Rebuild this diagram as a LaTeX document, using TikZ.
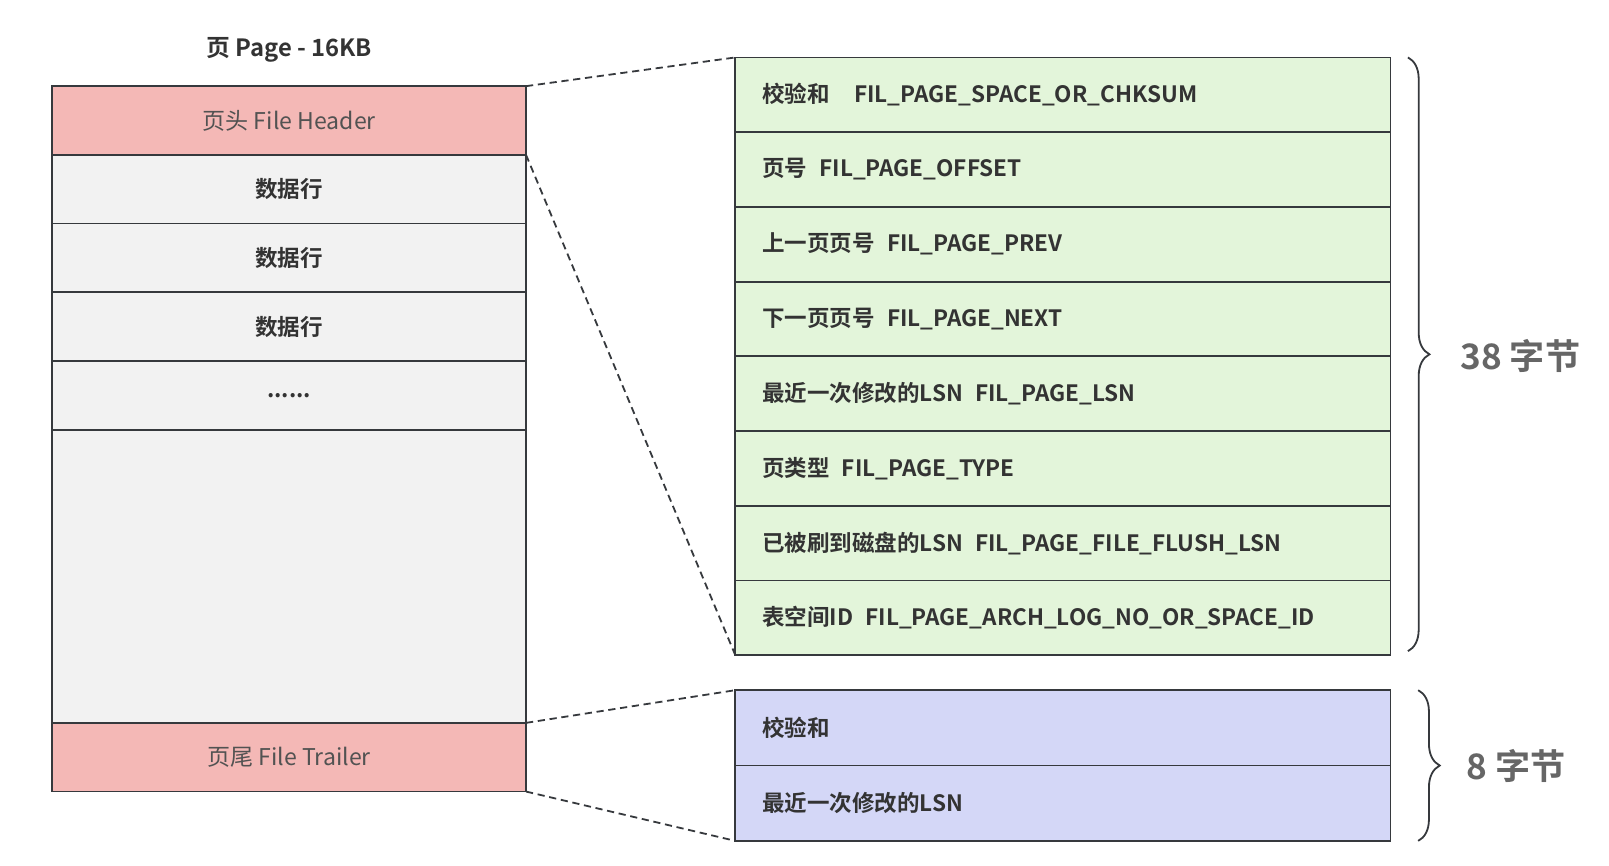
\documentclass[tikz,border=0pt]{standalone}
\usepackage{fontspec}
\setmainfont{Noto Sans CJK SC}[BoldFont={Noto Sans CJK SC Bold}]
\usetikzlibrary{positioning,decorations.pathreplacing}
\definecolor{edgecol}{HTML}{36393D}
\definecolor{hdrpink}{HTML}{F4B8B6}
\definecolor{rowgray}{HTML}{F2F2F2}
\definecolor{fldgreen}{HTML}{E3F5DA}
\definecolor{fldblue}{HTML}{D4D7F7}
\definecolor{txtcol}{HTML}{333333}
\definecolor{sizecol}{HTML}{666666}
\newcommand{\gap}{\hspace{0.55em}}

\begin{document}
\begin{tikzpicture}[x=0.02cm,y=-0.02cm,
		every node/.style={font=\fontsize{12.5}{15}\selectfont,text=txtcol},
		pagecell/.style={draw=edgecol,line width=1pt,outer sep=0pt,minimum width=9.24cm,minimum height=1.34cm},
		fieldcell/.style={draw=edgecol,line width=1pt,outer sep=0pt,minimum height=1.4575cm,
			text width=11.74cm,inner xsep=0.52cm,align=left,font=\fontsize{12.5}{15}\selectfont\bfseries},
		zoomline/.style={edgecol,line width=1pt,dash pattern=on 4pt off 2.6pt},
		bytebrace/.style={edgecol,line width=1pt,decorate,decoration={brace,amplitude=0.42cm}},
		sizelabel/.style={anchor=west,text=sizecol,font=\fontsize{19.5}{24}\selectfont\bfseries}]
		\useasboundingbox (0,0) rectangle (1569,844.4);
		% the page
		\node[font=\fontsize{13.2}{16}\selectfont\bfseries] (title) at (282,49) {页 Page - 16KB};
		\node[pagecell,fill=hdrpink,text=txtcol!85,font=\fontsize{12.8}{15}\selectfont] (hdr) at (282,117.5) {页头 File Header};
		\node[pagecell,fill=rowgray,below=0pt of hdr,font=\fontsize{12.5}{15}\selectfont\bfseries] (row1) {数据行};
		\node[pagecell,fill=rowgray,below=0pt of row1,font=\fontsize{12.5}{15}\selectfont\bfseries] (row2) {数据行};
		\node[pagecell,fill=rowgray,below=0pt of row2,font=\fontsize{12.5}{15}\selectfont\bfseries] (row3) {数据行};
		\node[pagecell,fill=rowgray,below=0pt of row3,font=\fontsize{12.5}{15}\selectfont\bfseries] (dots) {......};
		\node[pagecell,fill=rowgray,below=0pt of dots,minimum height=5.72cm] (free) {};
		\node[pagecell,fill=hdrpink,below=0pt of free,text=txtcol!85,font=\fontsize{12.8}{15}\selectfont] (trl) {页尾 File Trailer};
		% file header fields
		\foreach \i/\txt in {1/校验和\hspace{1.1em}FIL\_PAGE\_SPACE\_OR\_CHKSUM,
				2/页号\gap FIL\_PAGE\_OFFSET,
				3/上一页页号\gap FIL\_PAGE\_PREV,
				4/下一页页号\gap FIL\_PAGE\_NEXT,
				5/最近一次修改的LSN\gap FIL\_PAGE\_LSN,
				6/页类型\gap FIL\_PAGE\_TYPE,
				7/已被刷到磁盘的LSN\gap FIL\_PAGE\_FILE\_FLUSH\_LSN,
				8/表空间ID\gap FIL\_PAGE\_ARCH\_LOG\_NO\_OR\_SPACE\_ID}
			\node[fieldcell,fill=fldgreen] (fh\i) at (1036.5,{56+(\i-0.5)*72.875}) {\txt};
		% file trailer fields
		\node[fieldcell,fill=fldblue,minimum height=1.47cm] (ft1) at (1036.5,709.75) {校验和};
		\node[fieldcell,fill=fldblue,minimum height=1.47cm,below=0pt of ft1] (ft2) {最近一次修改的LSN};
		% zoom lines
		\draw[zoomline] (hdr.north east) -- (fh1.north west);
		\draw[zoomline] (hdr.south east) -- (fh8.south west);
		\draw[zoomline] (trl.north east) -- (ft1.north west);
		\draw[zoomline] (trl.south east) -- (ft2.south west);
		% braces
		\coordinate (hb1) at ([xshift=0.34cm]fh1.north east);
		\coordinate (hb2) at ([xshift=0.34cm,yshift=0.08cm]fh8.south east);
		\coordinate (tb1) at ([xshift=0.54cm]ft1.north east);
		\coordinate (tb2) at ([xshift=0.54cm]ft2.south east);
		\draw[bytebrace] (hb1) -- (hb2);
		\draw[bytebrace] (tb1) -- (tb2);
		\node[sizelabel] (hsize) at (1418,347) {38 字节};
		\node[sizelabel] (tsize) at (1424,747) {8 字节};
	\end{tikzpicture}
\end{document}
